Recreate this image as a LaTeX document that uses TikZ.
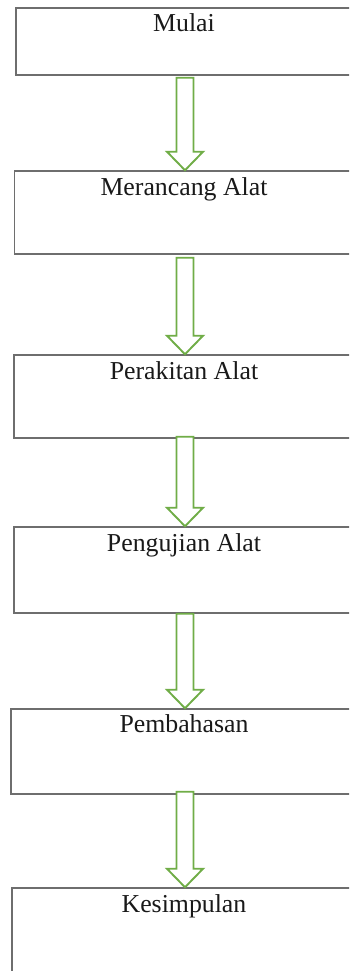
\documentclass[tikz,border=0pt]{standalone}
\usepackage{fontspec}
\setmainfont{Liberation Serif}
\usetikzlibrary{calc}
\definecolor{boxgray}{HTML}{6E6E6E}
\definecolor{agreen}{HTML}{70AD47}
\tikzset{
  box/.style={draw=boxgray, line width=1.5pt, rectangle, inner sep=0pt, fill=white},
  lab/.style={anchor=base, inner sep=0pt, font=\fontsize{25.8}{30}\selectfont, text=black!90},
  garrow/.style={draw=agreen, line width=1.9pt, fill=white, line join=miter}
}
\newcommand{\blockarr}[3]{%
  \draw[garrow] ($(#1.south)+(-7.5,#3)$) -- ($(#2.north)+(-7.5,-18.5)$) -- ($(#2.north)+(-17,-18.5)$)
    -- ($(#2.north)+(1,0)$) -- ($(#2.north)+(19,-18.5)$) -- ($(#2.north)+(9.5,-18.5)$)
    -- ($(#1.south)+(9.5,#3)$) -- cycle;}
\begin{document}
\begin{tikzpicture}[x=1pt,y=-1pt]
\useasboundingbox (0,0) rectangle (349,971);
\clip (0,0) rectangle (349,971);
\fill[white] (0,0) rectangle (349,971);
\node[box, minimum width=336pt, minimum height=67pt] (b1) at (184,41.5) {};
\node[box, minimum width=339pt, minimum height=83pt] (b2) at (184,212.5) {};
\node[box, minimum width=340pt, minimum height=83pt] (b3) at (184,396.5) {};
\node[box, minimum width=340pt, minimum height=86pt] (b4) at (184,570) {};
\node[box, minimum width=346pt, minimum height=85pt] (b5) at (184,751.5) {};
\node[box, minimum width=344pt, minimum height=110pt] (b6) at (184,943) {};
\node[lab] (t1) at ($(b1.north)+(0,24)$) {Mulai};
\node[lab] (t2) at ($(b2.north)+(0,25)$) {Merancang Alat};
\node[lab] (t3) at ($(b3.north)+(0,25)$) {Perakitan Alat};
\node[lab] (t4) at ($(b4.north)+(0,25)$) {Pengujian Alat};
\node[lab] (t5) at ($(b5.north)+(0,24)$) {Pembahasan};
\node[lab] (t6) at ($(b6.north)+(0,25)$) {Kesimpulan};
\blockarr{b1}{b2}{2}
\blockarr{b2}{b3}{3}
\blockarr{b3}{b4}{-2}
\blockarr{b4}{b5}{0}
\blockarr{b5}{b6}{-3}
\end{tikzpicture}
\end{document}
